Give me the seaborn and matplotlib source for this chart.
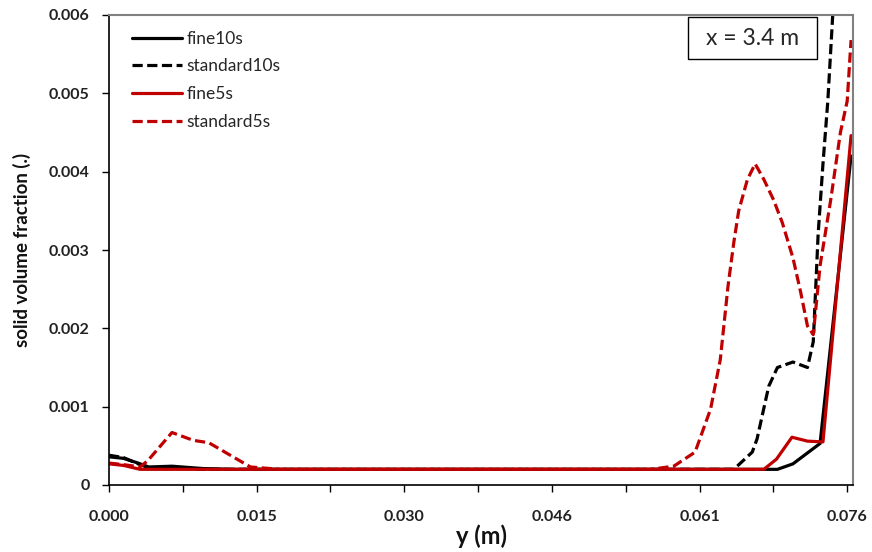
import matplotlib
matplotlib.use("Agg")
import matplotlib.pyplot as plt
from matplotlib.patches import Rectangle
import seaborn as sns
import pandas as pd

# Solid volume fraction profiles across the channel at x = 3.4 m
fine10s_y = [0.0, 0.0015, 0.0030, 0.0041, 0.0065, 0.0097, 0.0130, 0.0690, 0.0706, 0.0734, 0.0766]
fine10s_v = [0.00036, 0.00034, 0.00028, 0.00023, 0.00024, 0.00021, 0.0002, 0.0002, 0.00027, 0.00053, 0.0042]

standard10s_y = [0.0, 0.0015, 0.0030, 0.0041, 0.0065, 0.0097, 0.0130, 0.0645, 0.0664, 0.0669,
                 0.0681, 0.0690, 0.0706, 0.0721, 0.0727, 0.0732, 0.0737, 0.0742, 0.0748]
standard10s_v = [0.00038, 0.00035, 0.00027, 0.00022, 0.00022, 0.0002, 0.0002, 0.0002, 0.00042, 0.00059,
                 0.00126, 0.0015, 0.00157, 0.0015, 0.00183, 0.0032, 0.0041, 0.0049, 0.0062]

fine5s_y = [0.0, 0.0015, 0.0032, 0.0676, 0.0689, 0.0705, 0.0721, 0.0737, 0.0766]
fine5s_v = [0.00027, 0.00025, 0.0002, 0.0002, 0.00033, 0.00061, 0.00056, 0.00055, 0.00446]

standard5s_y = [0.0, 0.0015, 0.0032, 0.0040, 0.0065, 0.0087, 0.0103, 0.0146, 0.0177, 0.0559,
                0.0583, 0.0605, 0.0621, 0.0631, 0.0639, 0.0645, 0.0650, 0.0659, 0.0667, 0.0676,
                0.0686, 0.0695, 0.0706, 0.0714, 0.0721, 0.0727, 0.0734, 0.0745, 0.0755, 0.0762, 0.0766]
standard5s_v = [0.00028, 0.00026, 0.00023, 0.00031, 0.00067, 0.00057, 0.00054, 0.00023, 0.0002, 0.0002,
                0.00024, 0.00042, 0.00097, 0.0016, 0.00254, 0.0031, 0.0035, 0.0039, 0.0041, 0.0039,
                0.00364, 0.00335, 0.0029, 0.00246, 0.00203, 0.00192, 0.0028, 0.00364, 0.0045, 0.0049, 0.00568]

x_tick_labels = ["0.000", "0.015", "0.030", "0.046", "0.061", "0.076"]
y_tick_labels = ["0", "0.001", "0.002", "0.003", "0.004", "0.005", "0.006"]

sns.set_style("white")
plt.rcParams["font.family"] = ["Lato", "DejaVu Sans"]

fig = plt.figure(figsize=(8.72, 5.52), dpi=100)
ax = fig.add_axes([109 / 872, 1 - 485 / 552, (853 - 109) / 872, (485 - 15) / 552])

red = "#C00000"
dash = (0, (3.2, 1.4))
series = [
    ("fine10s", fine10s_y, fine10s_v, "black", "-"),
    ("standard10s", standard10s_y, standard10s_v, "black", dash),
    ("fine5s", fine5s_y, fine5s_v, red, "-"),
    ("standard5s", standard5s_y, standard5s_v, red, dash),
]
for name, ys, vs, color, ls in series:
    df = pd.DataFrame({"y": ys, "v": vs})
    sns.lineplot(data=df, x="y", y="v", ax=ax, color=color, linestyle=ls,
                 linewidth=2.3, errorbar=None, label=name)

ax.set_xlim(0, 0.0768)
ax.set_ylim(0, 0.006)

step = 0.0762 / 10
ax.set_xticks([step * i for i in range(11)])
ax.set_xticklabels([x_tick_labels[i // 2] if i % 2 == 0 else "" for i in range(11)])
ax.set_yticks([0.001 * i for i in range(7)])
ax.set_yticklabels(y_tick_labels)

ax.tick_params(axis="both", which="major", direction="out", length=5, width=1,
               color="black", labelsize=11.5, labelcolor="#222222", bottom=True, left=True)
ax.tick_params(axis="x", pad=13)
ax.tick_params(axis="y", pad=9)
for lbl in ax.get_xticklabels() + ax.get_yticklabels():
    lbl.set_fontweight("bold")

for side in ["left", "bottom"]:
    ax.spines[side].set_color("black")
    ax.spines[side].set_linewidth(1.2)
for side in ["top", "right"]:
    ax.spines[side].set_color("#808080")
    ax.spines[side].set_linewidth(1.5)

ax.set_xlabel("y (m)", fontsize=17, fontweight="bold", color="#111111", labelpad=0)
ax.set_ylabel("solid volume fraction (.)", fontsize=13.5, fontweight="bold",
              color="#111111", labelpad=13)

ax.legend(loc="upper left", frameon=False, fontsize=12.5, handlelength=2.9,
          handletextpad=0.25, labelspacing=0.68, bbox_to_anchor=(0.01, 1.0))

# Location annotation in a framed box
ax.add_patch(Rectangle((0.778, 0.906), 0.174, 0.089, transform=ax.transAxes,
                       facecolor="white", edgecolor="black", linewidth=1, zorder=5))
ax.text(0.865, 0.951, "x = 3.4 m", transform=ax.transAxes, ha="center", va="center",
        fontsize=16.5, zorder=6)

fig.savefig("out.png", dpi=100)
